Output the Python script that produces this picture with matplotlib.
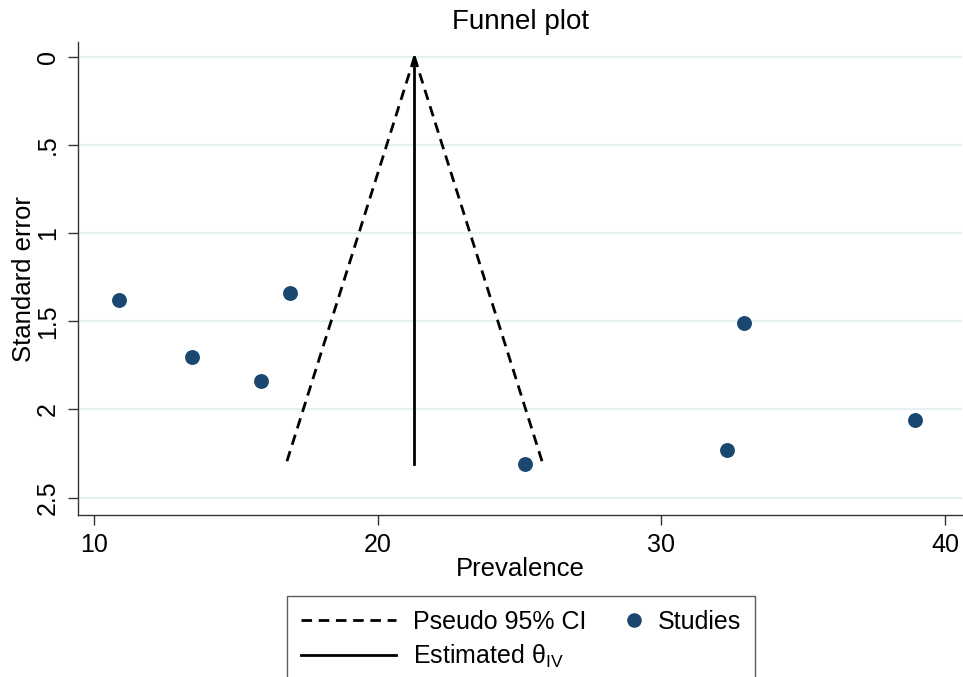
import numpy as np
import matplotlib.pyplot as plt
from matplotlib.lines import Line2D
from matplotlib.legend_handler import HandlerLine2D

plt.rcParams['font.family'] = ['Liberation Sans', 'DejaVu Sans']
plt.rcParams['mathtext.fontset'] = 'custom'
plt.rcParams['mathtext.rm'] = 'Liberation Sans'

# study estimates
prevalence = [10.9, 13.45, 15.9, 16.9, 25.2, 32.3, 32.9, 38.95]
std_err = [1.38, 1.70, 1.84, 1.34, 2.31, 2.23, 1.51, 2.06]

theta = 21.3          # pooled estimate (inverse variance)
se_max = max(std_err)

xticks = [10, 20, 30, 40]
yticks = [0, 0.5, 1, 1.5, 2, 2.5]
ytick_labels = ['0', '.5', '1', '1.5', '2', '2.5']

navy = '#1a476f'


# marker sits at the right end of the handle box, like stata does
class RightMarker(HandlerLine2D):
    def get_xdata(self, legend, xdescent, ydescent, width, height, fontsize):
        x = np.array([-xdescent + width - 0.28 * fontsize])
        return x, x


fig = plt.figure(figsize=(9.63, 6.77), dpi=100)
ax = fig.add_axes([0.081, 0.239, 0.918, 0.699])

for y in yticks:
    ax.axhline(y, color='#e6f0f2', lw=1.5, zorder=0)

se = np.array([0, se_max])
dash = (0, (3.8, 2.4))
ci_l, = ax.plot(theta - 1.96 * se, se, color='black', lw=2, ls=dash)
ax.plot(theta + 1.96 * se, se, color='black', lw=2, ls=dash)
est_l, = ax.plot([theta, theta], [0, se_max], color='black', lw=2)
ax.scatter(prevalence, std_err, s=115, color=navy, zorder=3, linewidths=0)
pts = Line2D([], [], ls='none', marker='o', ms=10.5, color=navy, mew=0)

ax.set_xlim(9.44, 40.6)
ax.set_ylim(2.6, -0.085)
ax.set_xticks(xticks)
ax.set_yticks(yticks)
ax.set_yticklabels(ytick_labels, rotation=90, va='center')
ax.tick_params(labelsize=18, length=7, width=1, color='#333333', pad=6)
for s in ['top', 'right']:
    ax.spines[s].set_visible(False)
for s in ['left', 'bottom']:
    ax.spines[s].set_color('#333333')
    ax.spines[s].set_linewidth(1)

ax.set_title('Funnel plot', fontsize=20, pad=9)
ax.set_xlabel('Prevalence', fontsize=18.5, labelpad=0)
ax.set_ylabel('Standard error', fontsize=18.5, labelpad=0)

leg = fig.legend([ci_l, est_l, pts],
                 ['Pseudo 95% CI', 'Estimated θ$_{\\mathrm{IV}}$', 'Studies'],
                 handler_map={pts: RightMarker()},
                 ncol=2, loc='upper center', bbox_to_anchor=(0.541, 0.119),
                 fontsize=18, frameon=True, fancybox=False, edgecolor='#333333',
                 handlelength=3.8, columnspacing=-1.6, borderpad=0.55,
                 labelspacing=0.35, handletextpad=0.68, borderaxespad=0)
leg.get_frame().set_linewidth(1)

fig.savefig('out.png', dpi=100)
